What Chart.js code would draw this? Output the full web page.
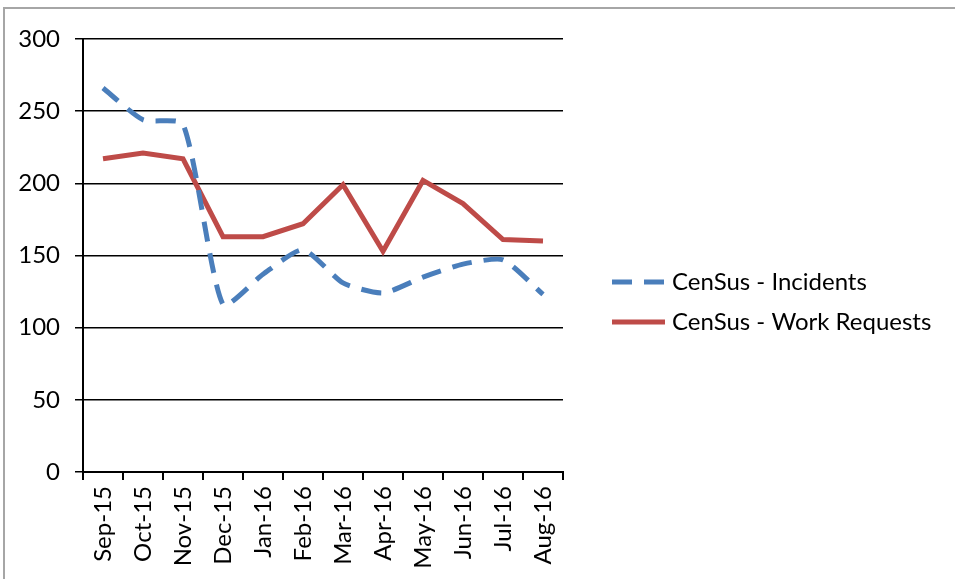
<!DOCTYPE html>
<html>
<head>
<meta charset="utf-8">
<script src="https://cdn.jsdelivr.net/npm/chart.js@4.4.0/dist/chart.umd.min.js"></script>
<style>
  html, body { margin: 0; padding: 0; background: #fff; overflow: hidden; }
  #frame {
    position: absolute; left: 3px; top: 7px; width: 1000px; height: 700px;
    border: 2px solid #a6a6a6; box-sizing: border-box;
  }
  #wrap { position: absolute; left: 0; top: 0; width: 955px; height: 579px; }
</style>
</head>
<body>
<div id="frame"></div>
<div id="wrap"><canvas id="chart" width="955" height="579"></canvas></div>
<script>
// Month labels
const months = ['Sep-15', 'Oct-15', 'Nov-15', 'Dec-15', 'Jan-16', 'Feb-16',
                'Mar-16', 'Apr-16', 'May-16', 'Jun-16', 'Jul-16', 'Aug-16'];

// Series values
const incidents = [266, 244, 241, 116, 137, 154, 131, 124, 135, 144, 147, 123];
const workRequests = [217, 221, 217, 163, 163, 172, 199, 153, 202, 186, 161, 160];

// Y axis ticks
const yTicks = [0, 50, 100, 150, 200, 250, 300];

const FONT = 'Lato, "Liberation Sans", sans-serif';

// Legend drawn at the right, next to the plot
const sideLegend = {
    id: 'sideLegend',
    afterDraw(chart) {
        const ctx = chart.ctx;
        const rows = [282, 322];
        ctx.save();
        chart.data.datasets.forEach((ds, i) => {
            const y = rows[i];
            ctx.beginPath();
            ctx.strokeStyle = ds.borderColor;
            ctx.lineWidth = ds.borderWidth;
            ctx.setLineDash(ds.borderDash || []);
            ctx.moveTo(612, y);
            ctx.lineTo(665, y);
            ctx.stroke();
            ctx.setLineDash([]);
            ctx.fillStyle = '#000';
            ctx.font = '24px ' + FONT;
            ctx.textBaseline = 'middle';
            ctx.textAlign = 'left';
            ctx.fillText(ds.label, 672, y);
        });
        ctx.restore();
    }
};

new Chart(document.getElementById('chart'), {
    type: 'line',
    data: {
        labels: months,
        datasets: [
            {
                label: 'CenSus - Incidents',
                data: incidents,
                borderColor: '#4A7EBB',
                borderWidth: 5,
                borderDash: [20, 12],
                pointRadius: 0,
                tension: 0.2,
                fill: false
            },
            {
                label: 'CenSus - Work Requests',
                data: workRequests,
                borderColor: '#BE4B48',
                borderWidth: 5,
                pointRadius: 0,
                tension: 0,
                fill: false
            }
        ]
    },
    options: {
        responsive: false,
        animation: false,
        layout: { padding: { left: 0, top: 39, right: 392, bottom: 0 } },
        plugins: {
            legend: { display: false },
            tooltip: { enabled: false }
        },
        scales: {
            x: {
                offset: true,
                grid: {
                    offset: true,
                    drawOnChartArea: false,
                    drawTicks: true,
                    tickLength: 8,
                    color: '#000',
                    lineWidth: 2
                },
                border: { display: true, color: '#000', width: 2 },
                ticks: {
                    minRotation: 90,
                    maxRotation: 90,
                    autoSkip: false,
                    padding: 6,
                    color: '#000',
                    font: { family: FONT, size: 24 }
                },
                afterFit(scale) { scale.height = 107; }
            },
            y: {
                min: 0,
                max: 300,
                afterBuildTicks(scale) { scale.ticks = yTicks.map(v => ({ value: v })); },
                grid: {
                    color: '#000',
                    lineWidth: 1.5,
                    drawTicks: true,
                    tickLength: 8
                },
                border: { display: true, color: '#000', width: 2 },
                ticks: {
                    padding: 15,
                    color: '#000',
                    font: { family: FONT, size: 24 }
                },
                afterFit(scale) { scale.width = 83; }
            }
        }
    },
    plugins: [sideLegend]
});
</script>
</body>
</html>
